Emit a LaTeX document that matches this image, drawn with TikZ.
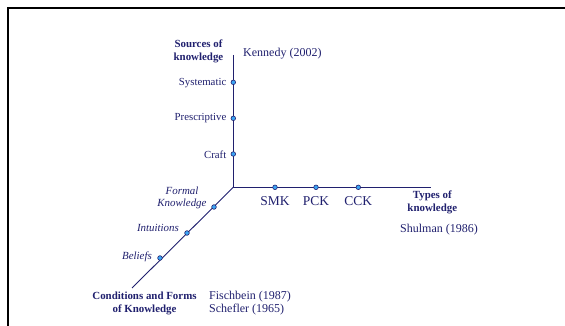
\documentclass[tikz,border=0pt]{standalone}
\usepackage{fontspec}
\setmainfont{Liberation Serif}
\definecolor{navy}{RGB}{32,32,110}
\definecolor{dotblue}{RGB}{60,165,245}
\tikzset{
  axisline/.style={draw=navy, line width=0.9pt},
  dotmark/.style={circle, draw=navy, fill=dotblue, line width=0.6pt, minimum size=4.6pt, inner sep=0pt},
  lbl/.style={text=navy, inner sep=0pt, font=\fontsize{10.8}{13}\selectfont},
  lblbig/.style={text=navy, inner sep=0pt, font=\fontsize{13.5}{15}\selectfont},
  lblref/.style={text=navy, inner sep=0pt, font=\fontsize{12}{13}\selectfont, align=left},
  lblbold/.style={text=navy, inner sep=0pt, font=\fontsize{10.9}{13}\selectfont\bfseries, align=center},
  lblit/.style={text=navy, inner sep=0pt, font=\fontsize{10.9}{12}\selectfont\itshape, align=center},
}
\begin{document}
\begin{tikzpicture}[x=1pt, y=-1pt]
\useasboundingbox (0,0) rectangle (565,326);
% frame
\coordinate (fbl) at (8,327);
\coordinate (ftl) at (8,8);
\coordinate (ftr) at (566,8);
\draw[black, line width=1.6pt] (fbl) -- (ftl) -- (ftr);
% axes
\coordinate (O) at (233.3,187.3);
\coordinate (vtop) at (233.3,55);
\coordinate (hend) at (430.7,187.3);
\coordinate (dend) at (132,288);
\draw[axisline] (vtop) -- (O) -- (hend);
\draw[axisline] (O) -- (dend);
% vertical axis dots and labels
\node[dotmark] (sys) at (233.3,82.3) {};
\node[dotmark] (pre) at (233.3,118.3) {};
\node[dotmark] (cra) at (233.3,154) {};
\node[lbl, anchor=east] (sysl) at (226.5,83) {Systematic};
\node[lbl, anchor=east] (prel) at (226.5,118.5) {Prescriptive};
\node[lbl, anchor=east] (cral) at (226.5,154.5) {Craft};
\node[lblbold] (sources) at (198.5,51.5) {Sources of\\knowledge};
\node[lblref, anchor=west] (kennedy) at (243,54) {Kennedy (2002)};
% horizontal axis
\node[dotmark] (smk) at (275,187.3) {};
\node[dotmark] (pck) at (316,187.3) {};
\node[dotmark] (cck) at (358.3,187.3) {};
\node[lblbig] (smkl) at (275,201) {SMK};
\node[lblbig] (pckl) at (316,201) {PCK};
\node[lblbig] (cckl) at (358.3,201) {CCK};
\node[lblbold] (types) at (432.3,202) {Types of\\knowledge};
\node[lblref] (shulman) at (439,230) {Shulman (1986)};
% diagonal axis
\node[dotmark] (fk) at (214,207) {};
\node[dotmark] (int) at (187,233) {};
\node[dotmark] (bel) at (160,258) {};
\node[lblit] (fkl) at (182,198) {Formal\\Knowledge};
\node[lblit, anchor=east] (intl) at (179,228) {Intuitions};
\node[lblit, anchor=east] (bell) at (152,257) {Beliefs};
\node[lblbold] (cond) at (144.5,303.5) {Conditions and Forms\\of Knowledge};
\node[lblref, anchor=west] (fisch) at (209,303.5) {Fischbein (1987)\\Schefler (1965)};
\end{tikzpicture}
\end{document}
